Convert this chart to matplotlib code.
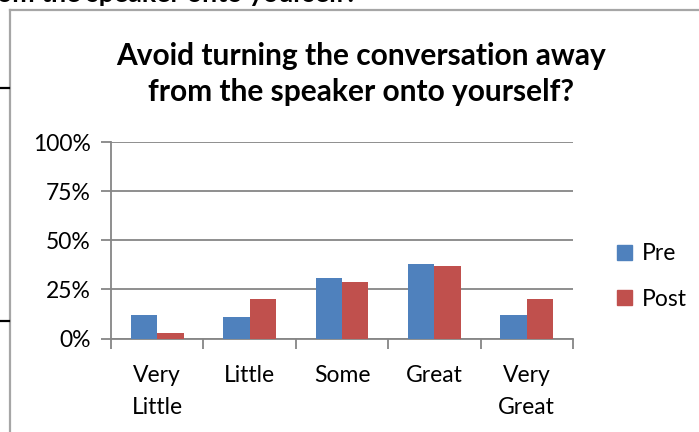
import matplotlib.pyplot as plt
import numpy as np
from matplotlib.lines import Line2D

plt.rcParams['font.family'] = ['Lato', 'DejaVu Sans']

categories = ['Very\nLittle', 'Little', 'Some', 'Great', 'Very\nGreat']
pre = [12, 11, 31, 38, 12]
post = [3, 20, 29, 37, 20]
yticks = [0, 25, 50, 75, 100]

blue = '#4F81BD'
red = '#C0504D'
grey = '#868686'

fig = plt.figure(figsize=(6.99, 4.32), dpi=100)
ax = fig.add_axes([0.1588, 0.2164, 0.8197 - 0.1588, 0.4542])

x = np.arange(len(categories))
w = 0.286
ax.bar(x - w / 2, pre, w, color=blue, label='Pre', zorder=3)
ax.bar(x + w / 2, post, w, color=red, label='Post', zorder=3)

ax.set_xlim(-0.5, len(categories) - 0.5)
ax.set_ylim(0, 100)
ax.set_yticks(yticks)
ax.set_yticklabels(['%d%%' % v for v in yticks], fontsize=16.5)
ax.yaxis.grid(True, color=grey, lw=1.3, zorder=0)
ax.set_xticks(x)
ax.set_xticklabels(categories, fontsize=16.5, linespacing=1.65)
ax.set_xticks(np.arange(-0.5, len(categories)), minor=True)
ax.tick_params(axis='x', which='major', length=0, pad=19)
ax.tick_params(axis='x', which='minor', length=7, width=1.3, color=grey)
ax.tick_params(axis='y', length=7, width=1.3, color=grey, pad=7.5)
for s in ['top', 'right']:
    ax.spines[s].set_visible(False)
for s in ['left', 'bottom']:
    ax.spines[s].set_color(grey)
    ax.spines[s].set_linewidth(1.3)

fig.text(0.516, 0.828, 'Avoid turning the conversation away\nfrom the speaker onto yourself?',
         ha='center', va='center', fontsize=21.5, fontweight='bold', linespacing=1.35)

# legend
handles = [plt.Rectangle((0, 0), 1, 1, color=blue), plt.Rectangle((0, 0), 1, 1, color=red)]
fig.legend(handles, ['Pre', 'Post'], loc='center left', bbox_to_anchor=(0.853, 0.36),
           frameon=False, fontsize=16.5, handlelength=0.65, handleheight=0.65,
           handletextpad=0.45, labelspacing=1.05)

# outer chart border and neighbouring page bits
fig.add_artist(Line2D([10 / 699, 10 / 699], [0, 1 - 10 / 432], color='#a6a6a6', lw=1.6))
fig.add_artist(Line2D([10 / 699, 1], [1 - 10 / 432, 1 - 10 / 432], color='#a6a6a6', lw=1.6))
fig.add_artist(Line2D([0, 9 / 699], [1 - 88 / 432, 1 - 88 / 432], color='black', lw=1.6))
fig.add_artist(Line2D([0, 9 / 699], [1 - 321 / 432, 1 - 321 / 432], color='black', lw=1.6))
fig.text(-0.004, 1 - 2 / 432, 'om the speaker onto yourself?', ha='left', va='baseline',
         fontsize=19.3, fontweight='bold')

fig.savefig('out.png', dpi=100)
